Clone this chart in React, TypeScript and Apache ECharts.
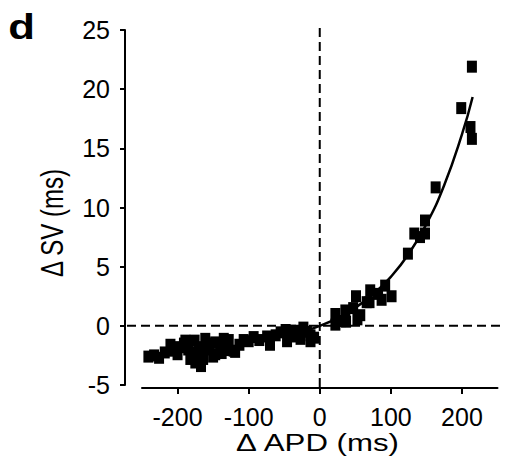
import React, { useEffect, useRef } from 'react';
import * as echarts from 'echarts';

// Δ APD (ms) of each measured point
const scatterX = [
  -241, -233, -226, -218, -210, -205, -200, -198, -191, -189, -185, -182, -176, -177, -175, -170,
  -168, -167, -164, -161, -158, -155, -150, -147, -147, -140, -138, -135, -130, -128, -121, -119,
  -113, -107, -100, -93, -85, -74, -70, -62, -55, -48, -46, -41, -36, -32, -27, -23, -18, -13, -13, -8,
  22, 22, 30, 36, 37, 47, 51, 53, 57, 66, 70, 71, 82, 87, 92, 101,
  124, 133, 141, 148, 148, 163, 199, 212, 214, 214,
];
// Δ SV (ms) of each measured point
const scatterY = [
  -2.6, -2.5, -2.7, -2.25, -1.6, -2.1, -2.4, -1.8, -1.5, -1.25, -2.0, -2.8, -1.25, -2.25, -3.1, -1.8,
  -2.4, -3.4, -2.8, -1.1, -2.0, -1.5, -2.6, -1.4, -2.4, -1.8, -2.3, -1.1, -2.05, -1.2, -2.1, -2.2,
  -1.6, -1.2, -1.3, -0.95, -1.2, -0.9, -1.6, -0.8, -0.55, -0.35, -1.3, -0.4, -0.9, -0.5, -1.1, -0.15,
  -0.5, -0.8, -1.3, -1.0,
  1.0, 0.1, 0.4, 1.3, 0.35, 1.5, 2.5, 0.55, 0.9, 2.0, 2.0, 3.0, 2.7, 2.2, 3.4, 2.5,
  6.1, 7.8, 7.5, 8.9, 7.8, 11.7, 18.4, 16.8, 15.8, 21.9,
];
// fitted curve
const fitX = [-20, 0, 25, 50, 75, 100, 125, 150, 175, 200, 215];
const fitY = [-0.42, 0, 0.66, 1.53, 2.67, 4.14, 6.07, 8.59, 11.88, 16.17, 19.34];

const xTickValues = [-200, -100, 0, 100, 200];
const yMin = -5;
const yMax = 25;
const yStep = 5;
const xMin = -250;
const xMax = 250;

const xTitle = 'Δ APD (ms)';
const yTitle = 'Δ SV (ms)';
const panelLabel = 'd';

const FONT = 'Liberation Sans, Arial, Helvetica, sans-serif';

export default function App() {
  const ref = useRef<HTMLDivElement>(null);
  useEffect(() => {
    if (!ref.current) return;
    const chart = echarts.init(ref.current, null, { renderer: 'svg' });
    const yOffset = 17;
    const xOffset = 3;
    chart.setOption({
      animation: false,
      backgroundColor: '#fff',
      grid: { left: 142, right: 8.5, top: 30, bottom: 91 },
      xAxis: {
        type: 'value',
        min: xMin,
        max: xMax,
        offset: xOffset,
        axisLine: { show: true, onZero: false, lineStyle: { color: '#000', width: 2 } },
        axisTick: { show: true, customValues: xTickValues, length: 6, lineStyle: { color: '#000', width: 2 } },
        axisLabel: { customValues: xTickValues, margin: 16, fontFamily: FONT, fontSize: 25, color: '#000' },
        splitLine: { show: false },
      },
      yAxis: {
        type: 'value',
        min: yMin,
        max: yMax,
        interval: yStep,
        offset: yOffset,
        axisLine: { show: true, onZero: false, lineStyle: { color: '#000', width: 2 } },
        axisTick: { show: true, length: 5, lineStyle: { color: '#000', width: 2 } },
        axisLabel: { margin: 15, fontFamily: FONT, fontSize: 25, color: '#000' },
        splitLine: { show: false },
      },
      series: [
        {
          type: 'scatter',
          symbol: 'rect',
          symbolSize: [10, 12],
          itemStyle: { color: '#000', opacity: 1 },
          data: scatterX.map((x, i) => [x, scatterY[i]]),
          z: 3,
        },
        {
          type: 'line',
          smooth: true,
          showSymbol: false,
          lineStyle: { color: '#000', width: 2.5 },
          data: fitX.map((x, i) => [x, fitY[i]]),
          z: 4,
        },
      ],
    });

    const conv = (v: number[]) => chart.convertToPixel({ xAxisIndex: 0, yAxisIndex: 0 }, v) as number[];
    const origin = conv([0, 0]);
    const top = conv([0, yMax]);
    const bottomLeft = conv([xMin, yMin]);
    const right = conv([xMax, 0]);
    const yAxisX = bottomLeft[0] - yOffset;
    const xAxisY = bottomLeft[1] + xOffset;

    chart.setOption({
      graphic: [
        {
          type: 'line',
          z: 1,
          shape: { x1: yAxisX + 2, y1: origin[1], x2: right[0] + 3, y2: origin[1] },
          style: { stroke: '#000', lineWidth: 2, lineDash: [9, 5] },
        },
        {
          type: 'line',
          z: 1,
          shape: { x1: origin[0], y1: top[1] - 2, x2: origin[0], y2: xAxisY },
          style: { stroke: '#000', lineWidth: 2, lineDash: [9, 5] },
        },
        {
          type: 'text',
          x: 317.5,
          y: 443,
          scaleX: 1.3,
          style: { text: xTitle, font: `24px ${FONT}`, fill: '#000', align: 'center', verticalAlign: 'middle' },
        },
        {
          type: 'text',
          x: 52,
          y: 223,
          rotation: Math.PI / 2,
          scaleY: 1.3,
          style: { text: yTitle, font: `24px ${FONT}`, fill: '#000', align: 'center', verticalAlign: 'middle' },
        },
        {
          type: 'text',
          x: 21.5,
          y: 27,
          scaleX: 1.25,
          style: { text: panelLabel, font: `bold 35px ${FONT}`, fill: '#000', align: 'center', verticalAlign: 'middle' },
        },
      ],
    });
    return () => chart.dispose();
  }, []);
  return (
    <div
      ref={ref}
      style={{ position: 'fixed', left: 0, top: 0, width: 506, height: 476, background: '#fff' }}
    />
  );
}
